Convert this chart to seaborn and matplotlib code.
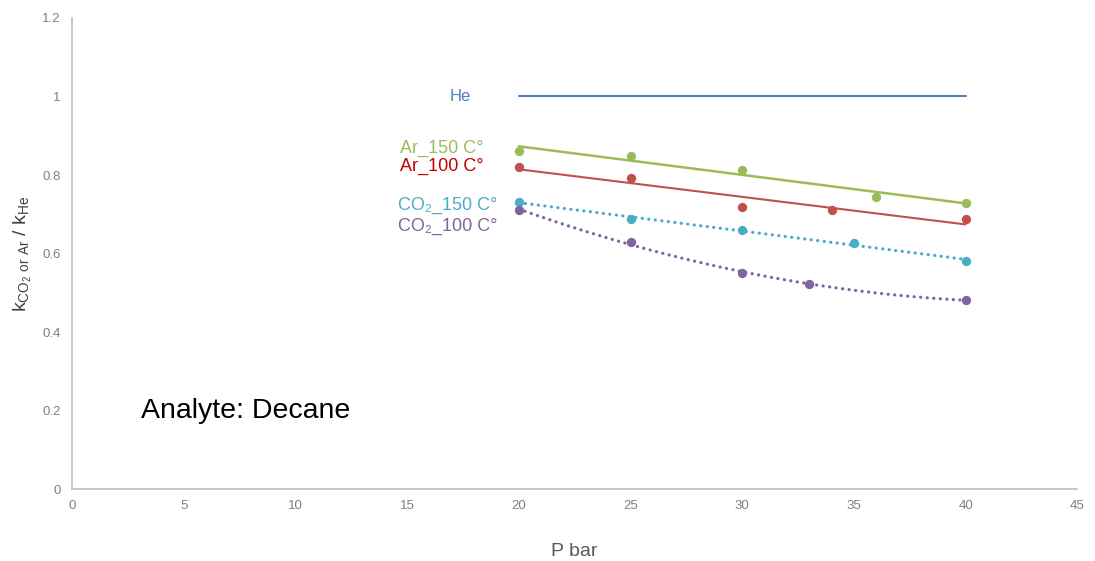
import numpy as np
import pandas as pd
import matplotlib
matplotlib.use('Agg')
import matplotlib.pyplot as plt
import seaborn as sns

# values
he_p = [20, 40]
he_k = [1.0, 1.0]

ar150_p = [20, 25, 30, 36, 40]
ar150_k = [0.861, 0.848, 0.813, 0.744, 0.729]

ar100_p = [20, 25, 30, 34, 40]
ar100_k = [0.820, 0.792, 0.718, 0.711, 0.688]

co2150_p = [20, 25, 30, 35, 40]
co2150_k = [0.731, 0.688, 0.660, 0.627, 0.581]

co2100_p = [20, 25, 30, 33, 40]
co2100_k = [0.711, 0.629, 0.550, 0.522, 0.482]

x_ticks = [0, 5, 10, 15, 20, 25, 30, 35, 40, 45]
y_ticks = [0, 0.2, 0.4, 0.6, 0.8, 1.0, 1.2]
y_tick_labels = ['0', '0.2', '0.4', '0.6', '0.8', '1', '1.2']

sns.set_style('white')
plt.rcParams['font.family'] = ['Liberation Sans', 'DejaVu Sans']

c_he = '#4f81bd'
c_ar150 = '#9bbb59'
c_ar100 = '#c0504d'
c_co2150 = '#4bacc6'
c_co2100 = '#8064a2'

fig = plt.figure(figsize=(10.95, 5.61), dpi=100)
ax = fig.add_axes([0.0658, 0.128, 0.918, 0.84])

sns.lineplot(x=he_p, y=he_k, color=c_he, lw=1.5, ax=ax)

dots = dict(s=45, linewidths=0, alpha=1)
dotted = dict(lw=2.3, ls=(0, (0.05, 2.0)), dash_capstyle='round')
sns.regplot(x=ar150_p, y=ar150_k, ci=None, color=c_ar150, ax=ax,
            scatter_kws=dots, line_kws=dict(lw=1.8))
sns.regplot(x=ar100_p, y=ar100_k, ci=None, color=c_ar100, ax=ax,
            scatter_kws=dots, line_kws=dict(lw=1.5))
sns.regplot(x=co2150_p, y=co2150_k, ci=None, color=c_co2150, ax=ax,
            scatter_kws=dots, line_kws=dotted)
sns.regplot(x=co2100_p, y=co2100_k, ci=None, order=2, color=c_co2100, ax=ax,
            scatter_kws=dots, line_kws=dotted)

ax.set_xlim(0, 45)
ax.set_ylim(0, 1.2)
ax.set_xticks(x_ticks)
ax.set_yticks(y_ticks)
ax.set_yticklabels(y_tick_labels)
ax.tick_params(axis='both', length=0, labelsize=9.5, labelcolor='#7f7f7f', pad=8)

sns.despine(ax=ax)
for s in ['left', 'bottom']:
    ax.spines[s].set_color('#bfbfbf')
    ax.spines[s].set_linewidth(1.2)

ax.set_xlabel('P bar', fontsize=14, color='#595959', labelpad=22)
ax.set_ylabel(r'k$_{\mathregular{CO_2\ or\ Ar}}$ / k$_{\mathregular{He}}$',
              fontsize=14, color='#404040', labelpad=6)

ax.text(16.9, 1.0, 'He', color=c_he, fontsize=12, va='center')
ax.text(14.7, 0.868, 'Ar_150 C°', color=c_ar150, fontsize=13, va='center')
ax.text(14.7, 0.823, 'Ar_100 C°', color='#c00000', fontsize=13, va='center')
ax.text(14.6, 0.723, 'CO₂_150 C°', color=c_co2150, fontsize=13, va='center')
ax.text(14.6, 0.668, 'CO₂_100 C°', color=c_co2100, fontsize=13, va='center')
ax.text(3.1, 0.2, 'Analyte: Decane', color='black', fontsize=20.5, va='center')

fig.savefig('out.png', dpi=100)
